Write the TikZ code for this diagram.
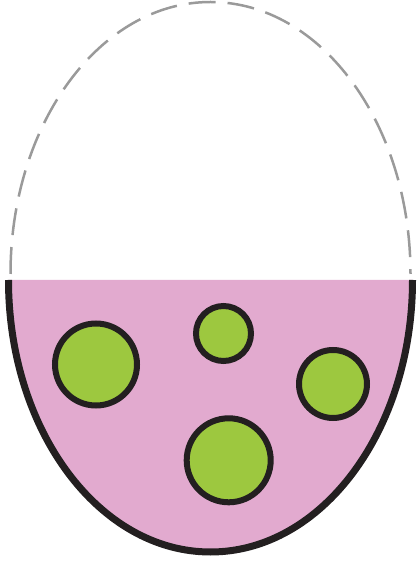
\documentclass[tikz,border=0pt]{standalone}
\usetikzlibrary{calc}
\definecolor{bagpink}{HTML}{E2AACF}
\definecolor{ballgreen}{HTML}{9DC83F}
\definecolor{inkblack}{HTML}{231F20}
\definecolor{dashgray}{HTML}{9A9A9A}
\tikzset{
  ball/.style={draw=inkblack, fill=ballgreen, line width=6pt},
  rim/.style={draw=inkblack, line width=7pt},
  lid/.style={draw=dashgray, line width=2.5pt, dash pattern=on 27pt off 12pt},
}
\begin{document}
\begin{tikzpicture}[x=1pt,y=1pt]
\useasboundingbox (0,0) rectangle (417,562);
% centre of ellipse at pixel (210.5, 280) -> tikz (210.5, 282)
\coordinate (L) at (8.5,282);
\fill[bagpink] (L) arc[start angle=180,end angle=360,x radius=202,y radius=272] -- cycle;
\draw[rim] (L) arc[start angle=180,end angle=360,x radius=202,y radius=272];
\draw[lid] (L) ++(2,6) arc[start angle=180,end angle=0,x radius=200,y radius=272];
\node[ball, circle, minimum size=82pt, inner sep=0pt] (b1) at (96,197.5) {};
\node[ball, circle, minimum size=55pt, inner sep=0pt] (b2) at (223.5,228.5) {};
\node[ball, circle, minimum size=68pt, inner sep=0pt] (b3) at (333,178) {};
\node[ball, circle, minimum size=84pt, inner sep=0pt] (b4) at (228.7,101.7) {};
\end{tikzpicture}
\end{document}
